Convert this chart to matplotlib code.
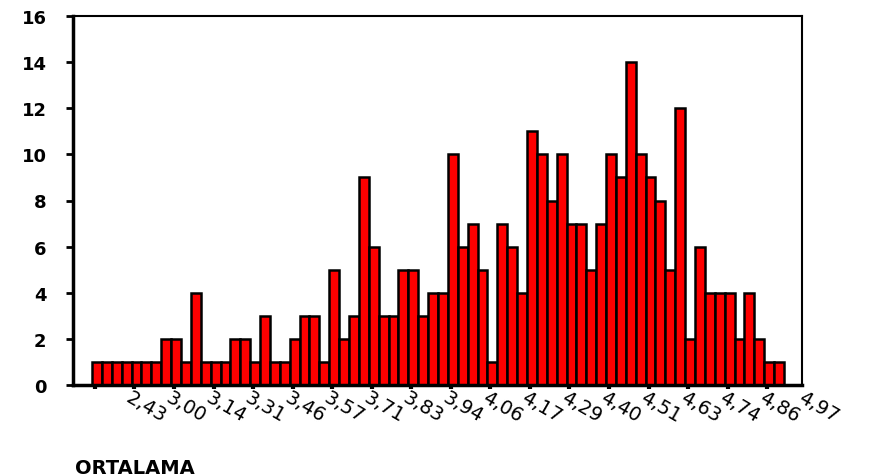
import numpy as np
import matplotlib.pyplot as plt

# frequency of each ORTALAMA value (bars, left to right)
counts = [1, 1, 1, 1, 1, 1, 1, 2, 2, 1, 4, 1, 1, 1, 2, 2, 1, 3, 1, 1,
          2, 3, 3, 1, 5, 2, 3, 9, 6, 3, 3, 5, 5, 3, 4, 4, 10, 6, 7, 5,
          1, 7, 6, 4, 11, 10, 8, 10, 7, 7, 5, 7, 10, 9, 14, 10, 9, 8, 5, 12,
          2, 6, 4, 4, 4, 2, 4, 2, 1, 1]
tick_labels = ['2,43', '3,00', '3,14', '3,31', '3,46', '3,57', '3,71', '3,83', '3,94',
               '4,06', '4,17', '4,29', '4,40', '4,51', '4,63', '4,74', '4,86', '4,97']

fig = plt.figure(figsize=(8.77, 4.77), dpi=100)
ax = fig.add_axes([73/877, 1-386/477, (802-73)/877, (386-17)/477])

x = np.arange(len(counts))
ax.bar(x, counts, width=1.0, color='#ff0000', edgecolor='black', linewidth=1.8)

ax.set_xlim(-2.42, 71.32)
ax.set_ylim(0, 16)
ax.set_yticks(range(0, 17, 2))
ax.tick_params(axis='y', length=5, width=2, direction='out', pad=14, labelsize=13)
for lab in ax.get_yticklabels():
    lab.set_fontweight('bold')

# tick marks every 4 bars, labels sit one tick further right (as in the original)
tick_pos = np.arange(0, 72, 4) - 0.2
ax.set_xticks(tick_pos)
ax.set_xticklabels([])
ax.tick_params(axis='x', length=3, width=3, direction='out')
for i, t in enumerate(tick_labels):
    ax.text(4 * (i + 1) - 0.4, -0.1, t, rotation=-30, rotation_mode='anchor',
            ha='left', va='top', fontsize=14, clip_on=False)

for side in ['left', 'bottom']:
    ax.spines[side].set_linewidth(2.5)
for side in ['top', 'right']:
    ax.spines[side].set_linewidth(1.5)

fig.text(75/877, 1-469/477, 'ORTALAMA', fontsize=14, fontweight='bold', va='center', ha='left')

fig.savefig('out.png', dpi=100)
